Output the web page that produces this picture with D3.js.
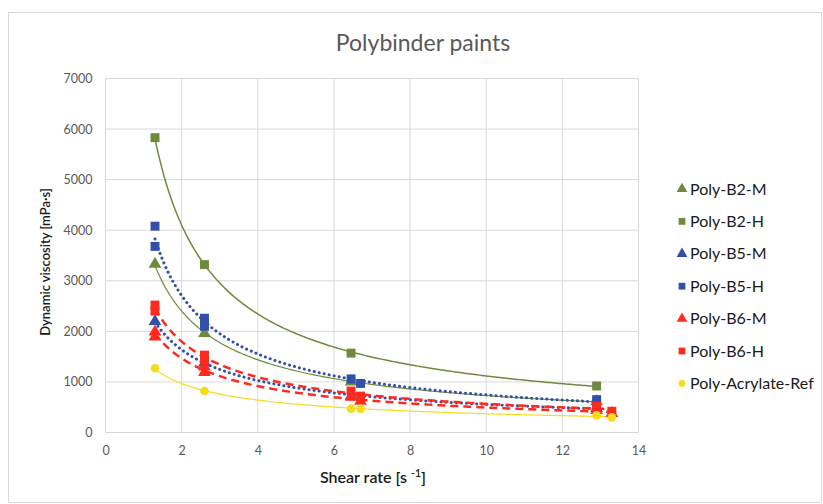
<!DOCTYPE html>
<html>
<head>
<meta charset="utf-8">
<script src="https://cdn.jsdelivr.net/npm/d3@7"></script>
<style>
  html, body { margin: 0; padding: 0; background: #fff; }
  svg { display: block; font-family: Lato, "Open Sans", sans-serif; }
</style>
</head>
<body>
<svg id="chart" width="823" height="504"></svg>
<script>
// Viscosity measurements of the polybinder paints (shear rate in s^-1, viscosity in mPa·s)
const seriesNames = ["Poly-B2-M", "Poly-B2-H", "Poly-B5-M", "Poly-B5-H", "Poly-B6-M", "Poly-B6-H", "Poly-Acrylate-Ref"];

const b2mRate = [1.3, 2.6, 6.45, 12.9];
const b2mVisc = [3330, 1960, 1000, 610];

const b2hRate = [1.3, 2.6, 6.45, 12.9];
const b2hVisc = [5830, 3320, 1570, 920];

const b5mRate = [1.3, 2.6, 6.45, 12.9];
const b5mVisc = [2200, 1380, 720, 480];

const b5hRate = [1.3, 1.3, 2.6, 2.6, 6.45, 6.7, 12.9, 12.9];
const b5hVisc = [4080, 3680, 2260, 2100, 1060, 970, 650, 590];

const b6mRate = [1.3, 1.3, 2.6, 2.6, 6.45, 6.7, 12.9, 13.3];
const b6mVisc = [1990, 1890, 1300, 1190, 700, 620, 440, 380];

const b6hRate = [1.3, 1.3, 2.6, 2.6, 6.45, 6.7, 12.9, 13.3];
const b6hVisc = [2520, 2400, 1530, 1430, 820, 720, 520, 420];

const refRate = [1.3, 2.6, 6.45, 6.7, 12.9, 13.3];
const refVisc = [1270, 820, 470, 470, 340, 300];

const xTicks = [0, 2, 4, 6, 8, 10, 12, 14];
const yTicks = [0, 1000, 2000, 3000, 4000, 5000, 6000, 7000];

const series = [
  { name: seriesNames[0], rate: b2mRate, visc: b2mVisc, shape: "triangle", color: "#6f8a3c", line: { width: 1.2, dash: null } },
  { name: seriesNames[1], rate: b2hRate, visc: b2hVisc, shape: "square",   color: "#6f8a3c", line: { width: 1.5, dash: null } },
  { name: seriesNames[2], rate: b5mRate, visc: b5mVisc, shape: "triangle", color: "#3350a8", line: { width: 3, dash: "0.1 5", cap: "round" } },
  { name: seriesNames[3], rate: b5hRate, visc: b5hVisc, shape: "square",   color: "#3350a8", line: { width: 3, dash: "0.1 5", cap: "round" } },
  { name: seriesNames[4], rate: b6mRate, visc: b6mVisc, shape: "triangle", color: "#ff2a1f", line: { width: 2.5, dash: "8 5" } },
  { name: seriesNames[5], rate: b6hRate, visc: b6hVisc, shape: "square",   color: "#ff2a1f", line: { width: 2.5, dash: "8 5" } },
  { name: seriesNames[6], rate: refRate, visc: refVisc, shape: "circle",   color: "#f7dc1e", line: { width: 1.2, dash: null } }
];

const svg = d3.select("#chart");

// chart frame
svg.append("rect")
  .attr("x", 8.5).attr("y", 12.5).attr("width", 813).attr("height", 490)
  .attr("fill", "#fff").attr("stroke", "#d9d9d9");

const x = d3.scaleLinear().domain([0, 14]).range([105.5, 638.5]);
const y = d3.scaleLinear().domain([0, 7000]).range([432.5, 78.5]);

// gridlines
const grid = svg.append("g");
grid.selectAll("line.h").data(yTicks).join("line")
  .attr("x1", x(0)).attr("x2", x(14))
  .attr("y1", d => y(d)).attr("y2", d => y(d))
  .attr("stroke", "#d9d9d9").attr("stroke-width", 1);
grid.selectAll("line.v").data(xTicks).join("line")
  .attr("y1", y(0)).attr("y2", y(7000))
  .attr("x1", d => x(d)).attr("x2", d => x(d))
  .attr("stroke", "#d9d9d9").attr("stroke-width", 1);

// axes (labels only; the grid supplies the lines)
const xAxis = svg.append("g").attr("transform", `translate(0,${y(0)})`)
  .call(d3.axisBottom(x).tickValues(xTicks).tickFormat(d3.format("d")).tickSize(0).tickPadding(14));
const yAxis = svg.append("g").attr("transform", `translate(${x(0)},0)`)
  .call(d3.axisLeft(y).tickValues(yTicks).tickFormat(d3.format("d")).tickSize(0).tickPadding(13));
[xAxis, yAxis].forEach(a => {
  a.select(".domain").remove();
  a.selectAll("text").attr("fill", "#595959").style("font-size", "12.5px").style("font-family", "Lato, sans-serif");
});

// power-law trendline fitted in log-log space
function powerFit(xs, ys) {
  const lx = xs.map(Math.log), ly = ys.map(Math.log);
  const n = lx.length;
  const mx = d3.mean(lx), my = d3.mean(ly);
  let sxy = 0, sxx = 0;
  for (let i = 0; i < n; i++) { sxy += (lx[i] - mx) * (ly[i] - my); sxx += (lx[i] - mx) ** 2; }
  const b = sxy / sxx;
  const a = Math.exp(my - b * mx);
  return t => a * Math.pow(t, b);
}

const lineGen = d3.line().x(d => x(d[0])).y(d => y(d[1])).curve(d3.curveLinear);

const trendLayer = svg.append("g");
series.forEach(s => {
  const f = powerFit(s.rate, s.visc);
  const [lo, hi] = d3.extent(s.rate);
  const pts = d3.range(0, 201).map(i => { const t = lo + (hi - lo) * i / 200; return [t, f(t)]; });
  trendLayer.append("path")
    .attr("d", lineGen(pts))
    .attr("fill", "none")
    .attr("stroke", s.color)
    .attr("stroke-width", s.line.width)
    .attr("stroke-dasharray", s.line.dash)
    .attr("stroke-linecap", s.line.cap || "butt");
});

// markers
function symbolFor(shape, size) {
  const type = shape === "triangle" ? d3.symbolTriangle : shape === "square" ? d3.symbolSquare : d3.symbolCircle;
  return d3.symbol().type(type).size(size)();
}
const markerSize = { triangle: 70, square: 80, circle: 60 };

const markLayer = svg.append("g");
series.forEach(s => {
  markLayer.selectAll(null).data(s.rate.map((r, i) => [r, s.visc[i]])).join("path")
    .attr("d", symbolFor(s.shape, markerSize[s.shape]))
    .attr("transform", d => `translate(${x(d[0])},${y(d[1])})`)
    .attr("fill", s.color);
});

// title
svg.append("text")
  .attr("x", 423).attr("y", 51)
  .attr("text-anchor", "middle")
  .attr("fill", "#595959")
  .style("font-size", "23px")
  .text("Polybinder paints");

// axis titles
svg.append("text")
  .attr("transform", `translate(50,262) rotate(-90)`)
  .attr("text-anchor", "middle")
  .attr("fill", "#1a1a1a")
  .style("font-size", "13px").style("font-weight", 600)
  .text("Dynamic viscosity [mPa·s]");

const xt = svg.append("text")
  .attr("x", 373).attr("y", 483)
  .attr("text-anchor", "middle")
  .attr("fill", "#1a1a1a")
  .style("font-size", "16px").style("font-weight", 600);
xt.append("tspan").text("Shear rate [s ");
xt.append("tspan").attr("dy", -6).style("font-size", "10.5px").text("-1");
xt.append("tspan").attr("dy", 6).text("]");

// legend
const legend = svg.append("g");
series.forEach((s, i) => {
  const ly = 189 + i * 32.4;
  const sz = { triangle: 50, square: 46, circle: 36 }[s.shape];
  legend.append("path")
    .attr("d", symbolFor(s.shape, sz))
    .attr("transform", `translate(682,${ly})`)
    .attr("fill", s.color);
  legend.append("text")
    .attr("x", 690).attr("y", ly + 5.5)
    .attr("fill", "#1a1a1a")
    .style("font-size", "16px")
    .text(s.name);
});
</script>
</body>
</html>
